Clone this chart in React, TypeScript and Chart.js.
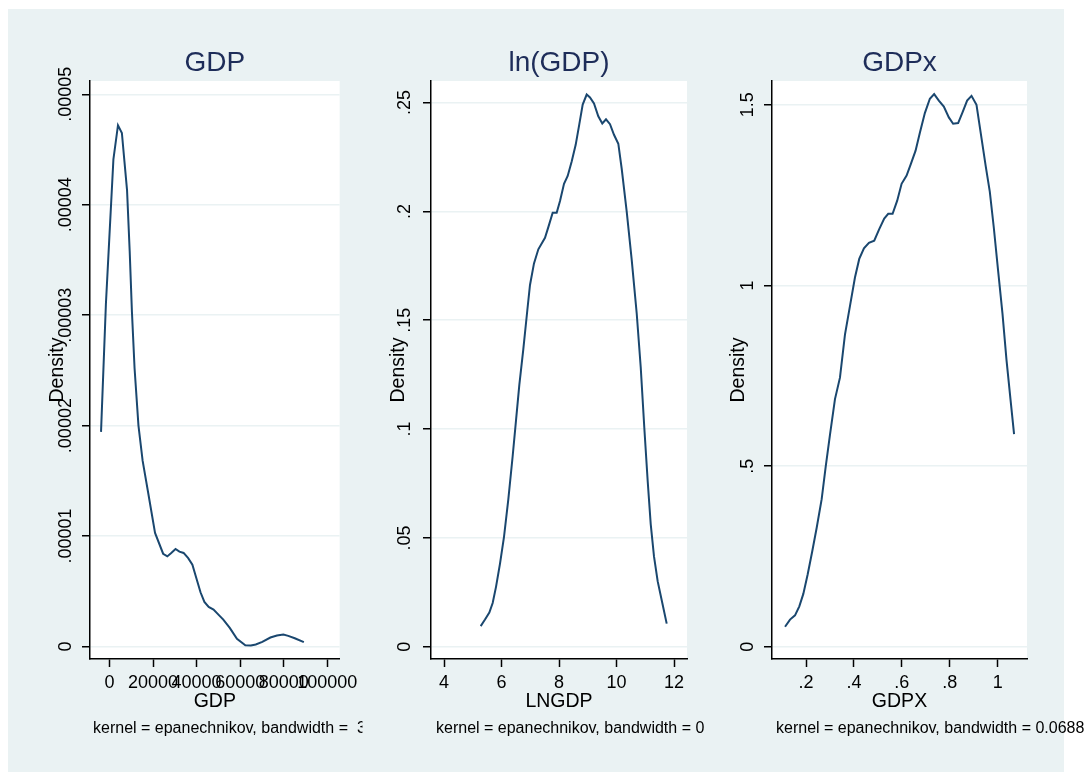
import React, { useEffect, useRef } from "react";
import { Chart, registerables } from "chart.js";

Chart.register(...registerables);

const FONT = '"Liberation Sans", Arial, Helvetica, sans-serif';
const NAVY = "#1A476F";
const TITLE_COLOR = "#1E2D59";
const GRID = "#EAF2F3";
const BG = "#EAF2F3";

// ---------- Panel 1: GDP ----------
const gdpX = [
  -3896, -1657, -134, 896, 1791, 3896, 5687, 6867, 8060, 9270, 10300, 11508,
  13299, 15225, 17777, 20912, 24629, 26555, 28346, 30316, 32107, 34033, 36136,
  38063, 40302, 41791, 43578, 45541, 47779, 50018, 52257, 55229, 58525, 62378,
  64931, 67170, 70169, 73887, 76886, 79842, 82081, 85082, 89247,
];
const gdpY = [
  0.00001943, 0.00003099, 0.0000368, 0.0000407, 0.0000441, 0.0000472,
  0.0000465, 0.0000439, 0.0000413, 0.0000358, 0.0000303, 0.0000252, 0.00002,
  0.0000168, 0.0000139, 0.00001028, 0.0000084, 0.00000816, 0.00000847,
  0.00000883, 0.00000859, 0.00000847, 0.000008, 0.00000741, 0.0000059,
  0.00000491, 0.00000404, 0.00000359, 0.00000335, 0.00000289, 0.00000244,
  0.00000169, 0.0000007, 0.00000012, 0.00000009, 0.00000018, 0.00000042,
  0.00000081, 0.00000099, 0.00000108, 0.00000096, 0.00000075, 0.00000039,
];
const gdpXTicks = [0, 20000, 40000, 60000, 80000, 100000];
const gdpXTickLabels = ["0", "20000", "40000", "60000", "80000", "100000"];
const gdpYTicks = [0, 0.00001, 0.00002, 0.00003, 0.00004, 0.00005];
const gdpYTickLabels = ["0", ".00001", ".00002", ".00003", ".00004", ".00005"];
const gdpCaption = "kernel = epanechnikov, bandwidth =  3";

// ---------- Panel 2: ln(GDP) ----------
const lnX = [
  5.276, 5.426, 5.577, 5.693, 5.809, 5.948, 6.087, 6.237, 6.388, 6.504, 6.62,
  6.759, 6.899, 6.991, 7.13, 7.281, 7.513, 7.629, 7.78, 7.919, 8.035, 8.174,
  8.302, 8.441, 8.58, 8.707, 8.824, 8.963, 9.078, 9.217, 9.367, 9.506, 9.635,
  9.774, 9.913, 10.063, 10.181, 10.355, 10.529, 10.703, 10.842, 10.967, 11.085,
  11.19, 11.304, 11.433, 11.593, 11.746,
];
const lnY = [
  0.00947, 0.01246, 0.0157, 0.0201, 0.0275, 0.0382, 0.0505, 0.0677, 0.0875,
  0.1039, 0.1203, 0.1367, 0.1547, 0.1662, 0.1761, 0.1826, 0.1879, 0.1928,
  0.1994, 0.1994, 0.2048, 0.2127, 0.2163, 0.2229, 0.2306, 0.2401, 0.2491,
  0.2537, 0.2524, 0.2496, 0.2437, 0.2404, 0.2423, 0.2401, 0.2352, 0.2311,
  0.2196, 0.1999, 0.1777, 0.1531, 0.1285, 0.1006, 0.076, 0.0563, 0.0415, 0.03,
  0.0201, 0.0106,
];
const lnXTicks = [4, 6, 8, 10, 12];
const lnXTickLabels = ["4", "6", "8", "10", "12"];
const lnYTicks = [0, 0.05, 0.1, 0.15, 0.2, 0.25];
const lnYTickLabels = ["0", ".05", ".1", ".15", ".2", ".25"];
const lnCaption = "kernel = epanechnikov, bandwidth = 0";

// ---------- Panel 3: GDPx ----------
const gxX = [
  0.1125, 0.1333, 0.1541, 0.1721, 0.1888, 0.2071, 0.2263, 0.2446, 0.2654,
  0.2821, 0.3, 0.3209, 0.3417, 0.3626, 0.3834, 0.4043, 0.4222, 0.4418, 0.4626,
  0.4847, 0.5056, 0.5264, 0.5431, 0.5614, 0.5806, 0.5989, 0.6198, 0.6377,
  0.6573, 0.6752, 0.696, 0.7169, 0.7348, 0.7544, 0.7752, 0.7961, 0.814, 0.8349,
  0.8532, 0.8724, 0.8907, 0.9115, 0.9324, 0.9503, 0.967, 0.9837, 1.0016,
  1.0199, 1.0366, 1.0533, 1.0683,
];
const gxY = [
  0.0554, 0.0753, 0.087, 0.1119, 0.1465, 0.2008, 0.2651, 0.3294, 0.4086,
  0.4978, 0.5867, 0.6856, 0.7449, 0.8637, 0.9429, 1.0219, 1.0734, 1.103, 1.118,
  1.1238, 1.1557, 1.1853, 1.1981, 1.1981, 1.2346, 1.2812, 1.3039, 1.3366,
  1.3731, 1.4227, 1.477, 1.5166, 1.5296, 1.5116, 1.495, 1.4651, 1.4474, 1.4493,
  1.4789, 1.5116, 1.5247, 1.4997, 1.4078, 1.3288, 1.2596, 1.1604, 1.0418,
  0.923, 0.7945, 0.6856, 0.5886,
];
const gxXTicks = [0.2, 0.4, 0.6, 0.8, 1];
const gxXTickLabels = [".2", ".4", ".6", ".8", "1"];
const gxYTicks = [0, 0.5, 1, 1.5];
const gxYTickLabels = ["0", ".5", "1", "1.5"];
const gxCaption = "kernel = epanechnikov, bandwidth = 0.0688";

// ---------- panel definitions (data refs + layout/style) ----------
const panels = [
  {
    title: "GDP", xTitle: "GDP", yTitle: "Density", caption: gdpCaption,
    xs: gdpX, ys: gdpY,
    xTicks: gdpXTicks, xTickLabels: gdpXTickLabels,
    yTicks: gdpYTicks, yTickLabels: gdpYTickLabels,
    xMin: -8957, xMax: 105687, yMin: -0.000001132, yMax: 0.000051204,
    left: 8, width: 356, areaLeft: 82, padRight: 18, yTitlePad: 38,
    yLabelGap: 15.5, captionDx: 3, captionClip: 354.5,
  },
  {
    title: "ln(GDP)", xTitle: "LNGDP", yTitle: "Density", caption: lnCaption,
    xs: lnX, ys: lnY,
    xTicks: lnXTicks, xTickLabels: lnXTickLabels,
    yTicks: lnYTicks, yTickLabels: lnYTickLabels,
    xMin: 3.5478, xMax: 12.452, yMin: -0.00565, yMax: 0.25992,
    left: 364, width: 343, areaLeft: 67, padRight: 20, yTitlePad: 22.8,
    yLabelGap: 17.5, captionDx: 5, captionClip: 343,
  },
  {
    title: "GDPx", xTitle: "GDPX", yTitle: "Density", caption: gxCaption,
    xs: gxX, ys: gxY,
    xTicks: gxXTicks, xTickLabels: gxXTickLabels,
    yTicks: gxYTicks, yTickLabels: gxYTickLabels,
    xMin: 0.0581, xMax: 1.1223, yMin: -0.03376, yMax: 1.5658,
    left: 707, width: 378, areaLeft: 65, padRight: 58, yTitlePad: 19.8,
    yLabelGap: 16, captionDx: 4, captionClip: 378,
  },
];

const CANVAS_TOP = 9;
const CANVAS_H = 763;
const TICK_SIZE = 18;
const AXIS_TITLE_SIZE = 19.5;

function measureWidest(labels: string[]): number {
  const c = document.createElement("canvas");
  const ctx = c.getContext("2d")!;
  ctx.font = `normal ${TICK_SIZE}px ${FONT}`;
  let w = 0;
  for (const l of labels) w = Math.max(w, ctx.measureText(l).width);
  return w;
}

const areaBg = {
  id: "areaBg",
  beforeDraw(chart: any) {
    const { ctx, chartArea } = chart;
    ctx.save();
    ctx.fillStyle = "#ffffff";
    ctx.fillRect(chartArea.left, chartArea.top, chartArea.right - chartArea.left, chartArea.bottom - chartArea.top);
    ctx.restore();
  },
};

function captionPlugin(text: string, dx: number, clipRight: number) {
  return {
    id: "caption",
    afterDraw(chart: any) {
      const { ctx, chartArea } = chart;
      ctx.save();
      ctx.beginPath();
      ctx.rect(0, 0, clipRight, chart.height);
      ctx.clip();
      ctx.font = `normal 16px ${FONT}`;
      ctx.fillStyle = "#000";
      ctx.textAlign = "left";
      ctx.textBaseline = "alphabetic";
      ctx.fillText(text, chartArea.left + dx, 724);
      ctx.restore();
    },
  };
}

function makeConfig(p: any): any {
  const widest = measureWidest(p.yTickLabels);
  return {
    type: "line",
    data: {
      datasets: [
        {
          data: p.xs.map((x: number, i: number) => ({ x, y: p.ys[i] })),
          borderColor: NAVY,
          borderWidth: 2,
          pointRadius: 0,
          fill: false,
          tension: 0,
        },
      ],
    },
    options: {
      responsive: false,
      animation: false,
      events: [],
      layout: {
        autoPadding: false,
        padding: { left: 0, right: p.padRight, top: 0, bottom: 53 },
      },
      plugins: {
        legend: { display: false },
        tooltip: { enabled: false },
        title: {
          display: true,
          text: p.title,
          fullSize: false,
          color: TITLE_COLOR,
          font: { family: FONT, size: 28, weight: "normal" },
          padding: { top: 37.5, bottom: 0.9 },
        },
      },
      scales: {
        x: {
          type: "linear",
          min: p.xMin,
          max: p.xMax,
          bounds: "data",
          afterBuildTicks: (s: any) => {
            s.ticks = p.xTicks.map((v: number) => ({ value: v }));
          },
          afterFit: (s: any) => {
            s.height = 60;
          },
          ticks: {
            autoSkip: false,
            minRotation: 0,
            maxRotation: 0,
            padding: 5.5,
            color: "#000",
            font: { family: FONT, size: TICK_SIZE },
            callback: (_v: any, i: number) => p.xTickLabels[i],
          },
          grid: {
            drawOnChartArea: false,
            drawTicks: true,
            tickLength: 8,
            tickColor: "#000",
            tickWidth: 1.5,
          },
          border: { display: true, color: "#000", width: 1.5 },
          title: {
            display: true,
            text: p.xTitle,
            color: "#000",
            font: { family: FONT, size: AXIS_TITLE_SIZE },
            padding: { top: 0, bottom: 5.2 },
          },
        },
        y: {
          type: "linear",
          min: p.yMin,
          max: p.yMax,
          bounds: "data",
          afterBuildTicks: (s: any) => {
            s.ticks = p.yTicks.map((v: number) => ({ value: v }));
          },
          afterFit: (s: any) => {
            s.width = p.areaLeft;
          },
          ticks: {
            autoSkip: false,
            minRotation: 90,
            maxRotation: 90,
            crossAlign: "center",
            padding: p.yLabelGap - widest / 2,
            color: "#000",
            font: { family: FONT, size: TICK_SIZE },
            callback: (_v: any, i: number) => p.yTickLabels[i],
          },
          grid: {
            color: GRID,
            lineWidth: 1.5,
            drawTicks: true,
            tickLength: 8,
            tickColor: "#000",
            tickWidth: 1.5,
          },
          border: { display: true, color: "#000", width: 1.5 },
          title: {
            display: true,
            text: p.yTitle,
            color: "#000",
            font: { family: FONT, size: AXIS_TITLE_SIZE },
            padding: { top: p.yTitlePad, bottom: 0 },
          },
        },
      },
    },
    plugins: [areaBg, captionPlugin(p.caption, p.captionDx, p.captionClip)],
  };
}

function Panel({ p }: { p: any }) {
  const ref = useRef<HTMLCanvasElement | null>(null);
  useEffect(() => {
    if (!ref.current) return;
    const chart = new Chart(ref.current, makeConfig(p));
    return () => chart.destroy();
  }, [p]);
  return (
    <canvas
      ref={ref}
      width={p.width}
      height={CANVAS_H}
      style={{
        position: "absolute",
        left: p.left,
        top: CANVAS_TOP,
        width: p.width,
        height: CANVAS_H,
        display: "block",
      }}
    />
  );
}

export default function App() {
  return (
    <div
      style={{
        position: "fixed",
        left: 0,
        top: 0,
        width: 1085,
        height: 772,
        background: "#ffffff",
        overflow: "hidden",
      }}
    >
      <div
        style={{
          position: "absolute",
          left: 8,
          top: 9,
          width: 1056,
          height: 763,
          background: BG,
        }}
      />
      {panels.map((p, i) => (
        <Panel key={i} p={p} />
      ))}
    </div>
  );
}
